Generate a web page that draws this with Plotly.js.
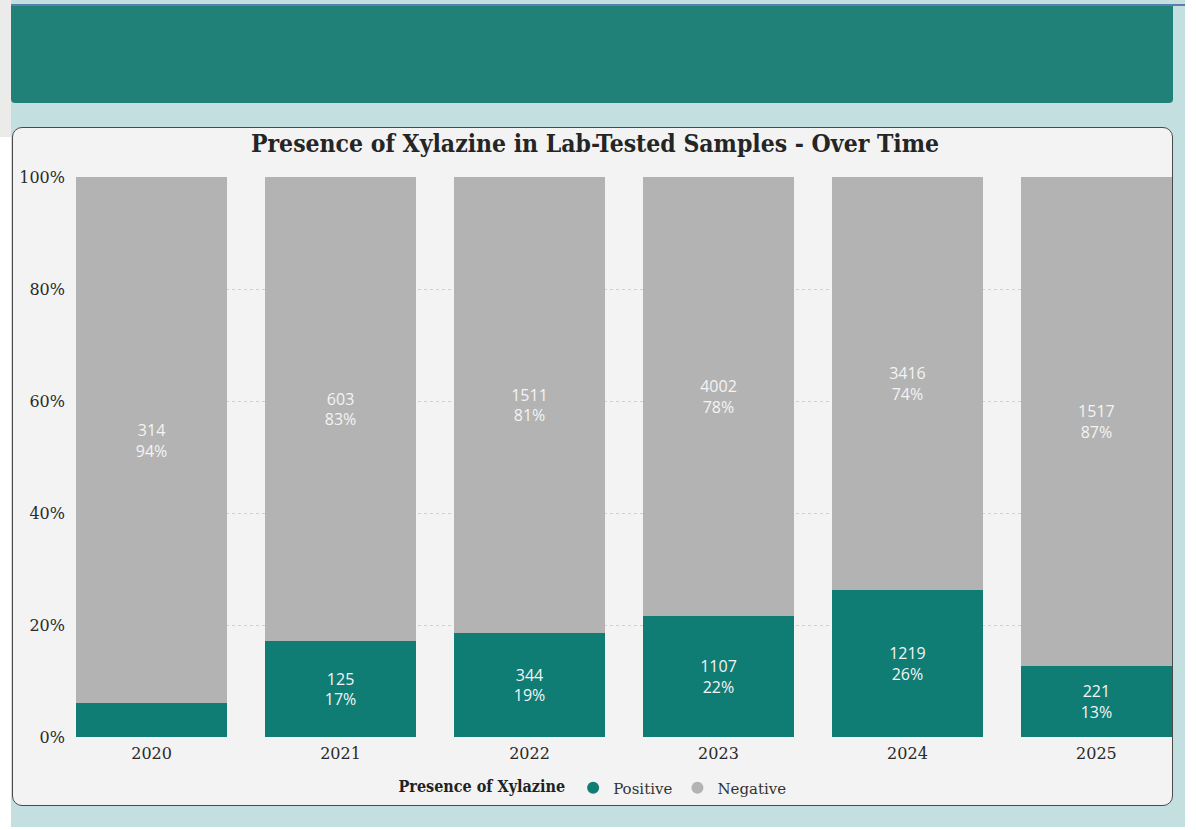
<!DOCTYPE html>
<html>
<head>
<meta charset="utf-8">
<script src="https://cdn.plot.ly/plotly-3.0.1.min.js"></script>
<style>
  html, body { margin:0; padding:0; width:1196px; height:830px; overflow:hidden; background:#ffffff; }
  #leftgrey { position:absolute; left:0; top:0; width:11px; height:137px; background:#ebebea; }
  #bg { position:absolute; left:11px; top:0; width:1174px; height:827px; background:#c4dfdf; }
  #topline { position:absolute; left:11px; top:4px; width:1174px; height:2px; background:#5a7fae; }
  #header { position:absolute; left:11px; top:6px; width:1162px; height:97px; background:#1f8178; border-radius:0 0 4px 4px; }
  #card { position:absolute; left:12px; top:127px; width:1159px; height:677px; background:#f2f3f2; border:1px solid #4a4a4a; border-radius:10px; }
  #chart { position:absolute; left:0; top:0; width:1196px; height:830px; }
</style>
</head>
<body>
<div id="leftgrey"></div>
<div id="bg"></div>
<div id="topline"></div>
<div id="header"></div>
<div id="card"></div>
<div id="chart"></div>
<script>
const years = ['2020', '2021', '2022', '2023', '2024', '2025'];
const positive = [20, 125, 344, 1107, 1219, 221];
const negative = [314, 603, 1511, 4002, 3416, 1517];
const positiveColor = '#107d74';
const negativeColor = '#b3b3b3';

const totals = years.map((_, i) => positive[i] + negative[i]);
const pct = (v, t) => Math.round(100 * v / t) + '%';
const posText = positive.map((v, i) => v + '<br>' + pct(v, totals[i]));
const negText = negative.map((v, i) => v + '<br>' + pct(v, totals[i]));

const labelFont = { family: 'Open Sans, sans-serif', size: 16, color: '#f4f4f4' };
const serif = 'DejaVu Serif, serif';
const serifBold = 'DejaVu Serif Condensed, DejaVu Serif, serif';

const traces = [
  {
    type: 'bar', name: 'Positive', x: years, y: positive, marker: { color: positiveColor },
    text: posText, textposition: 'inside', insidetextanchor: 'middle', textangle: 0,
    textfont: labelFont, showlegend: false, hoverinfo: 'x+y', legendgroup: 'pos'
  },
  {
    type: 'bar', name: 'Negative', x: years, y: negative, marker: { color: negativeColor },
    text: negText, textposition: 'inside', insidetextanchor: 'middle', textangle: 0,
    textfont: labelFont, showlegend: false, hoverinfo: 'x+y', legendgroup: 'neg'
  },
  {
    type: 'scatter', mode: 'markers', name: 'Positive', x: [null], y: [null],
    marker: { color: positiveColor, size: 12, symbol: 'circle' }, legendgroup: 'pos', hoverinfo: 'skip'
  },
  {
    type: 'scatter', mode: 'markers', name: 'Negative', x: [null], y: [null],
    marker: { color: negativeColor, size: 12, symbol: 'circle' }, legendgroup: 'neg', hoverinfo: 'skip'
  }
];

const layout = {
  width: 1196, height: 830,
  margin: { l: 76, r: 24, t: 177, b: 93 },
  paper_bgcolor: 'rgba(0,0,0,0)',
  plot_bgcolor: 'rgba(0,0,0,0)',
  barmode: 'stack',
  barnorm: 'percent',
  bargap: 0.2,
  uniformtext: { mode: 'hide', minsize: 14 },
  title: {
    text: '<b>Presence of Xylazine in Lab-Tested Samples - Over Time</b>',
    font: { family: serifBold, size: 24.5, color: '#252525' },
    x: 595 / 1196, xref: 'container', xanchor: 'center',
    y: 1 - 143 / 830, yref: 'container', yanchor: 'middle'
  },
  xaxis: {
    type: 'category',
    range: [-0.4, 5.4],
    showgrid: false, zeroline: false, showline: false, ticks: '',
    ticklabelstandoff: 5,
    tickfont: { family: serif, size: 16, color: '#2a2a2a' },
    fixedrange: true
  },
  yaxis: {
    range: [0, 100],
    tickvals: [0, 20, 40, 60, 80, 100],
    ticktext: ['0%', '20%', '40%', '60%', '80%', '100%'],
    showgrid: true, gridcolor: '#d2d2d2', griddash: 'dot', gridwidth: 1,
    zeroline: false, showline: false, ticks: '',
    ticklabelstandoff: 10,
    tickfont: { family: serif, size: 16, color: '#2a2a2a' },
    fixedrange: true
  },
  showlegend: true,
  legend: {
    orientation: 'h',
    x: (594 - 76) / 1096, xanchor: 'center',
    y: -(788 - 737) / 560, yanchor: 'middle',
    title: { text: '<b>Presence of Xylazine</b>', font: { family: serifBold, size: 16, color: '#222' } },
    font: { family: serif, size: 15, color: '#333' },
    itemwidth: 30, itemclick: false, bgcolor: 'rgba(0,0,0,0)'
  },
  font: { family: serif }
};

Plotly.newPlot('chart', traces, layout, { displayModeBar: false, staticPlot: true });
</script>
</body>
</html>
